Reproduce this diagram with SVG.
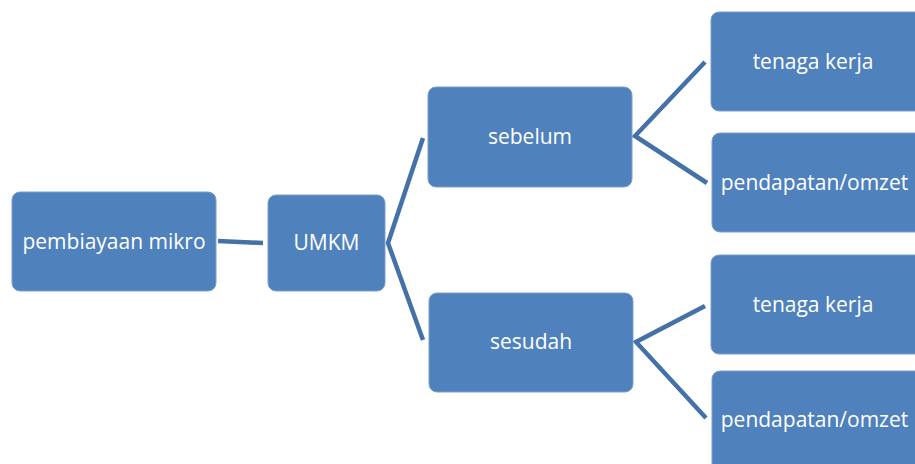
<svg xmlns="http://www.w3.org/2000/svg" width="915" height="464" viewBox="0 0 915 464">
<style>
.box{fill:#4F81BD;stroke:#7A9FCD;stroke-width:1}
.lbl{fill:#FFFFFF;font-family:"Open Sans","Liberation Sans",sans-serif;font-size:21px;text-anchor:middle;dominant-baseline:central}
.con{stroke:#4472A8;stroke-width:4.5;fill:none;stroke-linejoin:miter}
</style>
<rect width="915" height="464" fill="#FFFFFF"/>
<g id="connectors">
<line class="con" x1="218" y1="241" x2="263" y2="243"/>
<polyline class="con" points="423,138 388,243 423,340"/>
<polyline class="con" points="705,62 635,136 707,183"/>
<polyline class="con" points="705,306 636,342 706,418"/>
</g>
<g id="n-pembiayaan">
<rect class="box" x="12" y="192" width="204" height="99" rx="8"/>
<text class="lbl" x="114" y="241">pembiayaan mikro</text>
</g>
<g id="n-umkm">
<rect class="box" x="268" y="195" width="117" height="96" rx="8"/>
<text class="lbl" x="326.5" y="242">UMKM</text>
</g>
<g id="n-sebelum">
<rect class="box" x="428" y="87" width="204" height="100" rx="8"/>
<text class="lbl" x="530" y="136">sebelum</text>
</g>
<g id="n-sesudah">
<rect class="box" x="429" y="293" width="204" height="99" rx="8"/>
<text class="lbl" x="531" y="341">sesudah</text>
</g>
<g id="n-tenaga1">
<rect class="box" x="711" y="12" width="212" height="99" rx="8"/>
<text class="lbl" x="813" y="61">tenaga kerja</text>
</g>
<g id="n-pendapatan1">
<rect class="box" x="712" y="133" width="212" height="99" rx="8"/>
<text class="lbl" x="814.5" y="182">pendapatan/omzet</text>
</g>
<g id="n-tenaga2">
<rect class="box" x="711" y="255" width="212" height="99" rx="8"/>
<text class="lbl" x="813" y="304">tenaga kerja</text>
</g>
<g id="n-pendapatan2">
<rect class="box" x="712" y="371" width="212" height="110" rx="8"/>
<text class="lbl" x="814.5" y="419">pendapatan/omzet</text>
</g>
</svg>
